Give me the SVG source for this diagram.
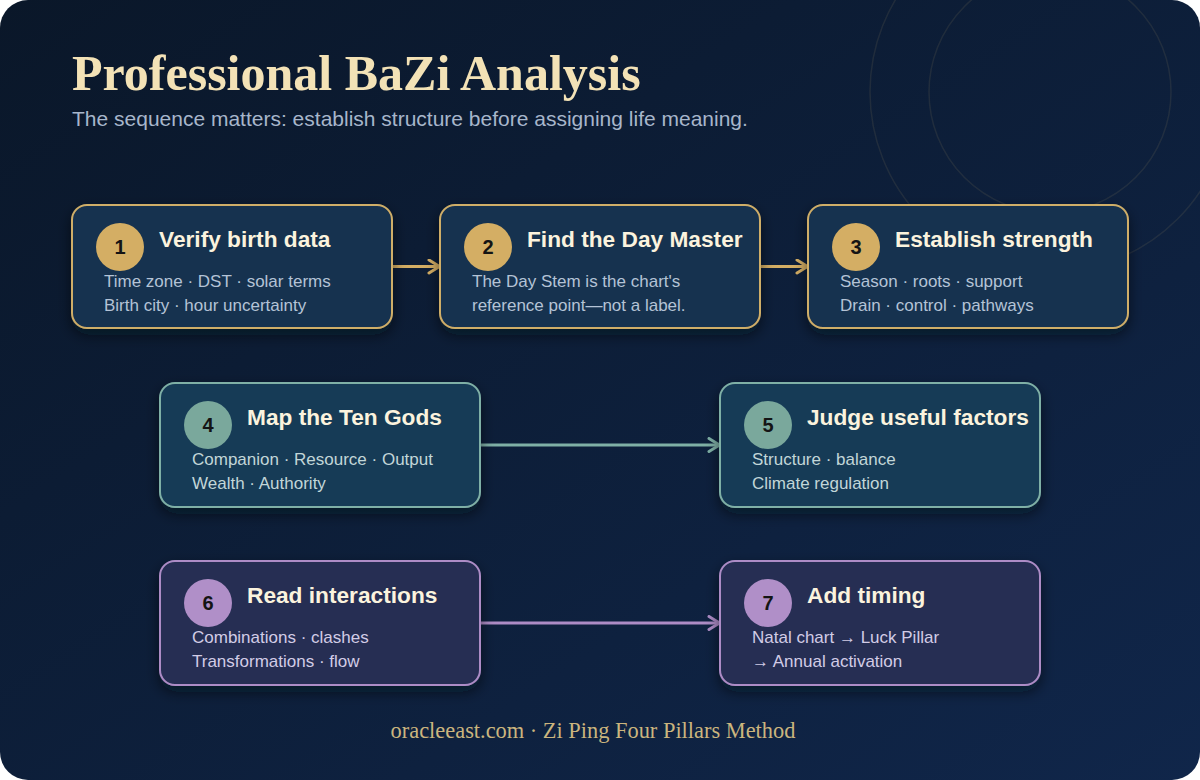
<svg xmlns="http://www.w3.org/2000/svg" width="1200" height="780" viewBox="0 0 1200 780">
<defs>
<linearGradient id="bg" x1="0" y1="0" x2="1" y2="1">
<stop offset="0" stop-color="#0a1729"/>
<stop offset="1" stop-color="#10264a"/>
</linearGradient>
<linearGradient id="rule" x1="0" y1="0" x2="1" y2="0">
<stop offset="0" stop-color="#b8924c"/>
<stop offset="0.5" stop-color="#e6c98a"/>
<stop offset="1" stop-color="#b8924c"/>
</linearGradient>
<filter id="sh" x="-20%" y="-20%" width="140%" height="150%">
<feDropShadow dx="0" dy="6" stdDeviation="7" flood-color="#000814" flood-opacity="0.55"/>
</filter>
<marker id="aG" viewBox="0 0 14 16" refX="13" refY="8" markerWidth="14" markerHeight="16" markerUnits="userSpaceOnUse" orient="auto">
<path d="M2,1.5 L12.5,8 L2,14.5" fill="none" stroke="#d4ae64" stroke-width="3" stroke-linecap="round" stroke-linejoin="round"/>
</marker>
<marker id="aT" viewBox="0 0 14 16" refX="13" refY="8" markerWidth="14" markerHeight="16" markerUnits="userSpaceOnUse" orient="auto">
<path d="M2,1.5 L12.5,8 L2,14.5" fill="none" stroke="#7fb0a6" stroke-width="3" stroke-linecap="round" stroke-linejoin="round"/>
</marker>
<marker id="aP" viewBox="0 0 14 16" refX="13" refY="8" markerWidth="14" markerHeight="16" markerUnits="userSpaceOnUse" orient="auto">
<path d="M2,1.5 L12.5,8 L2,14.5" fill="none" stroke="#ad8cc6" stroke-width="3" stroke-linecap="round" stroke-linejoin="round"/>
</marker>
</defs>
<style>
.gold{fill:#17304f;stroke:#cfae68;stroke-width:2}
.teal{fill:#173b57;stroke:#7fb0a6;stroke-width:2}
.purp{fill:#252f53;stroke:#ad8cc6;stroke-width:2}
.cG{fill:#d4ae64}.cT{fill:#7aa89c}.cP{fill:#b08fc8}
.num{font-family:"Liberation Sans",Arial,sans-serif;font-weight:bold;font-size:20px;fill:#141414;text-anchor:middle}
.ttl{font-family:"Liberation Sans",Arial,sans-serif;font-weight:bold;font-size:22.7px;fill:#fbf3de}
.sub{font-family:"Liberation Sans",Arial,sans-serif;font-size:17px;fill:#b4c3d6}
.subT{fill:#c2d6d8}
.subP{fill:#d2cce6}
.conG{stroke:#d4ae64;stroke-width:3;fill:none}
.conT{stroke:#7fb0a6;stroke-width:3;fill:none}
.conP{stroke:#ad8cc6;stroke-width:3;fill:none}
</style>
<rect x="0" y="0" width="1200" height="780" fill="#ffffff"/>
<rect x="0" y="0" width="1200" height="780" rx="28" fill="url(#bg)"/>
<circle cx="1050" cy="92" r="180" fill="none" stroke="#c9ab6a" stroke-opacity="0.11" stroke-width="1.5"/>
<circle cx="1050" cy="92" r="121" fill="none" stroke="#c9ab6a" stroke-opacity="0.11" stroke-width="1.5"/>
<text x="72" y="90" font-family="Liberation Serif,'Times New Roman',serif" font-weight="bold" font-size="50" fill="#f3e2b6">Professional BaZi Analysis</text>
<text x="72" y="126" font-family="Liberation Sans,Arial,sans-serif" font-size="21" fill="#a7b6cb">The sequence matters: establish structure before assigning life meaning.</text>
<line x1="74" y1="158" x2="1126" y2="158" stroke="url(#rule)" stroke-width="4" stroke-linecap="round"/>
<g id="connectors">
<line class="conG" x1="392" y1="266.5" x2="440" y2="266.5" marker-end="url(#aG)"/>
<line class="conG" x1="760" y1="266.5" x2="808" y2="266.5" marker-end="url(#aG)"/>
<line class="conT" x1="480" y1="445" x2="720" y2="445" marker-end="url(#aT)"/>
<line class="conP" x1="480" y1="623" x2="720" y2="623" marker-end="url(#aP)"/>
</g>
<g id="step1">
<rect class="gold" x="72" y="205" width="320" height="123" rx="15" filter="url(#sh)"/>
<circle class="cG" cx="120" cy="247" r="24"/>
<text class="num" x="120" y="254">1</text>
<text class="ttl" x="159" y="247">Verify birth data</text>
<text class="sub" x="104" y="287">Time zone · DST · solar terms</text>
<text class="sub" x="104" y="311">Birth city · hour uncertainty</text>
</g>
<g id="step2">
<rect class="gold" x="440" y="205" width="320" height="123" rx="15" filter="url(#sh)"/>
<circle class="cG" cx="488" cy="247" r="24"/>
<text class="num" x="488" y="254">2</text>
<text class="ttl" x="527" y="247">Find the Day Master</text>
<text class="sub" x="472" y="287">The Day Stem is the chart's</text>
<text class="sub" x="472" y="311">reference point—not a label.</text>
</g>
<g id="step3">
<rect class="gold" x="808" y="205" width="320" height="123" rx="15" filter="url(#sh)"/>
<circle class="cG" cx="856" cy="247" r="24"/>
<text class="num" x="856" y="254">3</text>
<text class="ttl" x="895" y="247">Establish strength</text>
<text class="sub" x="840" y="287">Season · roots · support</text>
<text class="sub" x="840" y="311">Drain · control · pathways</text>
</g>
<g id="step4">
<rect class="teal" x="160" y="383" width="320" height="124" rx="15" filter="url(#sh)"/>
<circle class="cT" cx="208" cy="425" r="24"/>
<text class="num" x="208" y="432">4</text>
<text class="ttl" x="247" y="425">Map the Ten Gods</text>
<text class="sub subT" x="192" y="465">Companion · Resource · Output</text>
<text class="sub subT" x="192" y="489">Wealth · Authority</text>
</g>
<g id="step5">
<rect class="teal" x="720" y="383" width="320" height="124" rx="15" filter="url(#sh)"/>
<circle class="cT" cx="768" cy="425" r="24"/>
<text class="num" x="768" y="432">5</text>
<text class="ttl" x="807" y="425">Judge useful factors</text>
<text class="sub subT" x="752" y="465">Structure · balance</text>
<text class="sub subT" x="752" y="489">Climate regulation</text>
</g>
<g id="step6">
<rect class="purp" x="160" y="561" width="320" height="124" rx="15" filter="url(#sh)"/>
<circle class="cP" cx="208" cy="603" r="24"/>
<text class="num" x="208" y="610">6</text>
<text class="ttl" x="247" y="603">Read interactions</text>
<text class="sub subP" x="192" y="643">Combinations · clashes</text>
<text class="sub subP" x="192" y="667">Transformations · flow</text>
</g>
<g id="step7">
<rect class="purp" x="720" y="561" width="320" height="124" rx="15" filter="url(#sh)"/>
<circle class="cP" cx="768" cy="603" r="24"/>
<text class="num" x="768" y="610">7</text>
<text class="ttl" x="807" y="603">Add timing</text>
<text class="sub subP" x="752" y="643">Natal chart → Luck Pillar</text>
<text class="sub subP" x="752" y="667">→ Annual activation</text>
</g>
<text x="593" y="738" text-anchor="middle" font-family="Liberation Serif,'Times New Roman',serif" font-size="22.4" fill="#cbb57e">oracleeast.com · Zi Ping Four Pillars Method</text>
</svg>
